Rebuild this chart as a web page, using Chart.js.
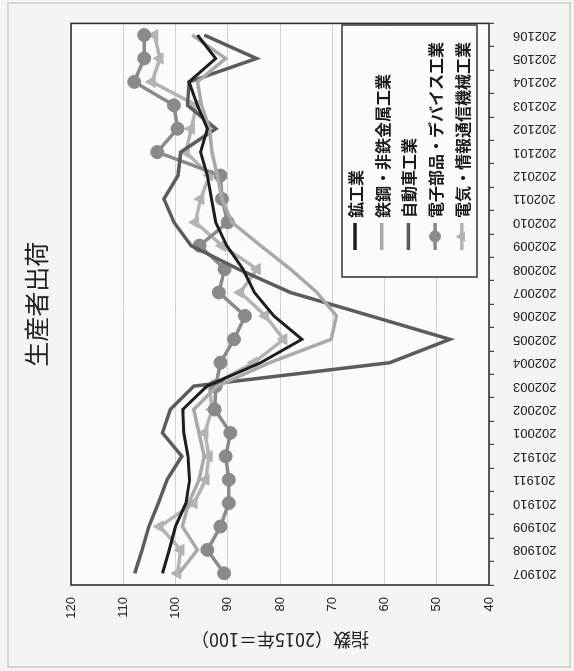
<!DOCTYPE html>
<html lang="ja">
<head>
<meta charset="utf-8">
<script src="https://cdn.jsdelivr.net/npm/chart.js@4.4.0/dist/chart.umd.min.js"></script>
<style>
  html, body { margin: 0; padding: 0; background: #f4f4f2; }
  body { width: 574px; height: 671px; overflow: hidden; position: relative; }
  /* 元の横長グラフを左に90度回転して縦向きに配置 */
  #wrap { position: absolute; left: 0; top: 0; width: 671px; height: 574px;
          transform-origin: 0 0; transform: translateY(671px) rotate(-90deg); }
</style>
</head>
<body>
<div id="wrap"><canvas id="chart" width="671" height="574"></canvas></div>
<script>
/* ── データ ── */
const months = ['201907', '201908', '201909', '201910', '201911', '201912',
    '202001', '202002', '202003', '202004', '202005', '202006',
    '202007', '202008', '202009', '202010', '202011', '202012',
    '202101', '202102', '202103', '202104', '202105', '202106'];

const mining     = [102.5, 101.2, 100.0, 98.0, 97.3, 97.6, 98.4, 98.6, 94.0, 83.7, 75.8, 81.2,
                    84.9, 87.1, 90.2, 92.3, 93.1, 93.9, 95.2, 93.9, 95.8, 97.4, 92.3, 95.8];
const steel      = [99.3, 95.8, 98.7, 97.5, 95.5, 94.5, 95.5, 96.5, 92.0, 82.0, 70.2, 69.2,
                    72.9, 78.0, 83.7, 89.2, 91.1, 92.0, 93.0, 93.5, 95.0, 95.8, 90.4, 96.8];
const auto       = [107.8, 106.4, 105.1, 103.3, 101.6, 98.8, 102.5, 101.0, 96.5, 59.0, 47.5, 62.7,
                    78.0, 88.0, 97.0, 100.3, 102.2, 99.5, 99.0, 92.3, 97.7, 97.4, 84.5, 94.5];
const electronic = [90.7, 93.9, 91.4, 89.8, 89.8, 90.4, 89.5, 92.5, 92.3, 91.4, 88.8, 86.7,
                    91.7, 90.6, 95.4, 90.0, 91.1, 91.4, 103.5, 99.6, 100.3, 107.9, 106.0, 106.0];
const electric   = [99.6, 99.0, 103.0, 96.5, 94.2, 93.6, 94.4, 93.0, 93.5, 85.0, 79.3, 82.8,
                    87.6, 84.4, 91.1, 96.2, 95.2, 93.5, 98.0, 97.0, 96.0, 104.5, 103.0, 104.0];

const yTicks = [40, 50, 60, 70, 80, 90, 100, 110, 120];

const JP = '"Noto Sans CJK JP", "Noto Sans", sans-serif';
const NUM = '"Liberation Sans", Arial, sans-serif';

/* 背景・外枠・プロット枠 */
const framePlugin = {
    id: 'frame',
    beforeDraw(chart) {
        const { ctx, chartArea: a } = chart;
        ctx.save();
        ctx.fillStyle = '#f4f4f2';
        ctx.fillRect(0, 0, chart.width, chart.height);
        ctx.strokeStyle = '#cacaca';
        ctx.lineWidth = 1.5;
        ctx.strokeRect(4, 8, 664, 562);
        ctx.fillStyle = '#fbfbfb';
        ctx.fillRect(a.left, a.top, a.right - a.left, a.bottom - a.top);
        ctx.restore();
    },
    afterDraw(chart) {
        const { ctx, chartArea: a } = chart;
        ctx.save();
        ctx.strokeStyle = '#333';
        ctx.lineWidth = 1.6;
        ctx.strokeRect(a.left, a.top, a.right - a.left, a.bottom - a.top);
        ctx.restore();
    },
};

/* 凡例（プロット内右下に枠付き） */
const boxLegend = {
    id: 'boxLegend',
    afterDraw(chart) {
        const { ctx } = chart;
        const box = { x: 394, y: 342, w: 252, h: 135 };
        ctx.save();
        ctx.fillStyle = '#fbfbfb';
        ctx.fillRect(box.x, box.y, box.w, box.h);
        ctx.strokeStyle = '#333';
        ctx.lineWidth = 1.5;
        ctx.strokeRect(box.x, box.y, box.w, box.h);
        chart.data.datasets.forEach((ds, k) => {
            const cy = 355 + k * 26.7;
            ctx.strokeStyle = ds.borderColor;
            ctx.lineWidth = 3.5;
            ctx.beginPath();
            ctx.moveTo(421, cy);
            ctx.lineTo(448, cy);
            ctx.stroke();
            if (ds.pointStyle && ds.pointRadius > 0) {
                ctx.fillStyle = ds.pointBackgroundColor;
                ctx.strokeStyle = ds.pointBackgroundColor;
                ctx.lineWidth = 1;
                Chart.helpers.drawPoint(ctx, { pointStyle: ds.pointStyle, radius: 5.5, borderWidth: 1 }, 434.5, cy);
            }
            ctx.fillStyle = '#1a1a1a';
            ctx.font = 'bold 16px ' + JP;
            ctx.textAlign = 'left';
            ctx.textBaseline = 'middle';
            ctx.fillText(ds.label, 453, cy + 1);
        });
        ctx.restore();
    },
};

const line = (label, data, color, width) => ({
    label, data,
    borderColor: color,
    backgroundColor: color,
    borderWidth: width,
    pointRadius: 0,
    tension: 0,
});

const marked = (label, data, color, style) => ({
    label, data,
    borderColor: color,
    backgroundColor: color,
    borderWidth: 3.5,
    pointStyle: style,
    pointRadius: 6.5,
    pointBackgroundColor: color,
    pointBorderColor: color,
    pointBorderWidth: 1,
    tension: 0,
});

new Chart(document.getElementById('chart'), {
    type: 'line',
    data: {
        labels: months,
        datasets: [
            line('鉱工業', mining, '#1e1e1e', 3),
            line('鉄鋼・非鉄金属工業', steel, '#a9a9a9', 3.5),
            line('自動車工業', auto, '#5c5c5c', 3.5),
            marked('電子部品・デバイス工業', electronic, '#8a8a8a', 'circle'),
            marked('電気・情報通信機械工業', electric, '#b3b3b3', 'triangle'),
        ],
    },
    options: {
        responsive: false,
        animation: false,
        devicePixelRatio: 1,
        layout: { padding: { left: 0, right: 22, top: 0, bottom: 0 } },
        plugins: {
            legend: { display: false },
            tooltip: { enabled: false },
            title: {
                display: true,
                text: '生産者出荷',
                fullSize: false,
                color: '#222',
                font: { family: JP, size: 25, weight: 'normal' },
                padding: { top: 21, bottom: 20 },
            },
        },
        scales: {
            x: {
                offset: true,
                grid: { offset: true, drawOnChartArea: false, tickLength: 5, color: '#444', lineWidth: 1.2 },
                border: { display: false },
                ticks: {
                    autoSkip: false, minRotation: 90, maxRotation: 90, padding: 19,
                    color: '#222', font: { family: NUM, size: 13 },
                },
                afterFit(s) { s.height = 85; },
            },
            y: {
                min: 40, max: 120,
                afterBuildTicks(s) { s.ticks = yTicks.map(v => ({ value: v })); },
                grid: { color: '#d2d2d2', lineWidth: 1, drawTicks: false },
                border: { display: false },
                ticks: { padding: 12, color: '#222', font: { family: NUM, size: 13 } },
                title: {
                    display: true,
                    text: '指数（2015年＝100）',
                    color: '#222',
                    font: { family: JP, size: 18 },
                    padding: { top: 20, bottom: 0 },
                },
                afterFit(s) { s.width = 86; },
            },
        },
    },
    plugins: [framePlugin, boxLegend],
});
</script>
</body>
</html>
